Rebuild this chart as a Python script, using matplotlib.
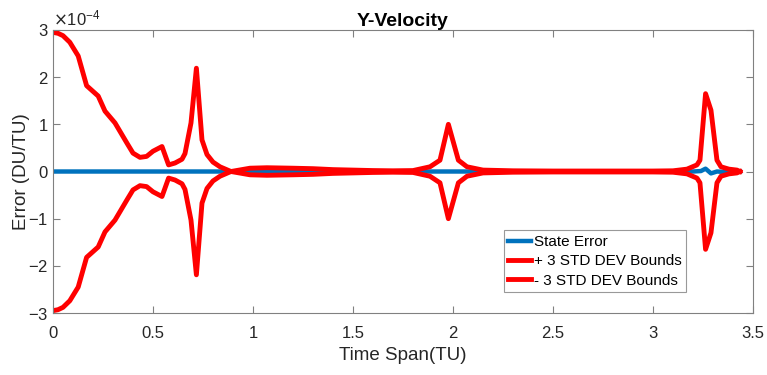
import matplotlib.pyplot as plt
from matplotlib.ticker import ScalarFormatter

plt.rcParams['font.family'] = ['Liberation Sans', 'DejaVu Sans']
plt.rcParams['axes.unicode_minus'] = False

# time grid for the covariance bounds (TU)
t_bound = [0, 0.025, 0.05, 0.084, 0.126, 0.168, 0.226, 0.26, 0.31, 0.37,
           0.40, 0.435, 0.468, 0.50, 0.545, 0.578, 0.61, 0.645, 0.66, 0.69,
           0.717, 0.745, 0.77, 0.80, 0.835, 0.89, 0.985, 1.07, 1.2, 1.3,
           1.4, 1.5, 1.6, 1.7, 1.8, 1.885, 1.935, 1.977, 2.027, 2.07,
           2.15, 2.3, 2.5, 2.7, 2.9, 3.0, 3.1, 3.17, 3.22, 3.235,
           3.263, 3.29, 3.32, 3.34, 3.38, 3.42, 3.435]

# +3 sigma bound (x1e-4 DU/TU)
plus_bound = [2.95, 2.93, 2.88, 2.74, 2.45, 1.82, 1.6, 1.28, 1.03, 0.6,
              0.39, 0.3, 0.32, 0.43, 0.53, 0.14, 0.18, 0.26, 0.38, 1.03,
              2.19, 0.67, 0.36, 0.2, 0.1, 0.0, 0.07, 0.08, 0.07, 0.06,
              0.04, 0.03, 0.02, 0.015, 0.02, 0.1, 0.24, 1.0, 0.24, 0.1,
              0.03, 0.015, 0.01, 0.01, 0.01, 0.01, 0.015, 0.05, 0.14, 0.24,
              1.65, 1.3, 0.24, 0.1, 0.05, 0.03, 0.0]

# -3 sigma bound (x1e-4 DU/TU)
minus_bound = [-2.95, -2.93, -2.88, -2.74, -2.45, -1.82, -1.6, -1.28, -1.03, -0.6,
               -0.39, -0.3, -0.32, -0.43, -0.53, -0.14, -0.18, -0.26, -0.38, -1.03,
               -2.19, -0.67, -0.36, -0.2, -0.1, 0.0, -0.07, -0.08, -0.07, -0.06,
               -0.04, -0.03, -0.02, -0.015, -0.02, -0.1, -0.24, -1.0, -0.24, -0.1,
               -0.03, -0.015, -0.01, -0.01, -0.01, -0.01, -0.015, -0.05, -0.14, -0.24,
               -1.65, -1.3, -0.24, -0.1, -0.05, -0.03, 0.0]

# state error (x1e-4 DU/TU)
t_err = [0, 0.5, 1.0, 1.5, 2.0, 2.5, 3.0, 3.2, 3.24, 3.263, 3.29, 3.32, 3.36, 3.435]
state_err = [0, 0, 0, 0, 0, 0, 0, 0.0, 0.01, 0.06, -0.04, 0.0, -0.01, 0]

scale = 1e-4

fig = plt.figure(figsize=(7.67, 3.75), dpi=100)
ax = fig.add_axes([0.0691, 0.1653, 0.9126, 0.7547])

ax.plot(t_err, [v * scale for v in state_err], color=(0, 0.447, 0.741),
        lw=3.2, label='State Error')
ax.plot(t_bound, [v * scale for v in plus_bound], color='red', lw=3.5,
        label='+ 3 STD DEV Bounds')
ax.plot(t_bound, [v * scale for v in minus_bound], color='red', lw=3.5,
        label='- 3 STD DEV Bounds')

ax.set_xlim(0, 3.5)
ax.set_ylim(-3e-4, 3e-4)
ax.set_xticks([0, 0.5, 1, 1.5, 2, 2.5, 3, 3.5])
ax.set_xticklabels(['0', '0.5', '1', '1.5', '2', '2.5', '3', '3.5'])
ax.set_yticks([-3e-4, -2e-4, -1e-4, 0, 1e-4, 2e-4, 3e-4])

fmt = ScalarFormatter(useMathText=True)
fmt.set_powerlimits((0, 0))
ax.yaxis.set_major_formatter(fmt)

gray = '#262626'
for s in ax.spines.values():
    s.set_color('#808080')
    s.set_linewidth(0.8)
ax.tick_params(direction='in', top=True, right=True, labelsize=12,
               labelcolor=gray, color='#808080', length=5, width=0.8)
ax.tick_params(axis='x', pad=9)
ax.yaxis.get_offset_text().set_fontsize(12)
ax.yaxis.get_offset_text().set_color(gray)

ax.set_title('Y-Velocity', fontsize=14, fontweight='bold', color='black', pad=3)
ax.set_xlabel('Time Span(TU)', fontsize=13.5, color=gray, labelpad=5)
ax.set_ylabel('Error (DU/TU)', fontsize=13.5, color=gray)
ax.yaxis.set_label_coords(-0.033, 0.5)

leg = ax.legend(loc='lower left', bbox_to_anchor=(0.644, 0.073), fontsize=11,
                frameon=True, fancybox=False, handlelength=1.5,
                handletextpad=0.15, labelspacing=0.35, borderpad=0.3,
                borderaxespad=0)
leg.get_frame().set_edgecolor('#808080')
leg.get_frame().set_linewidth(0.8)

fig.savefig('out.png', dpi=100)
